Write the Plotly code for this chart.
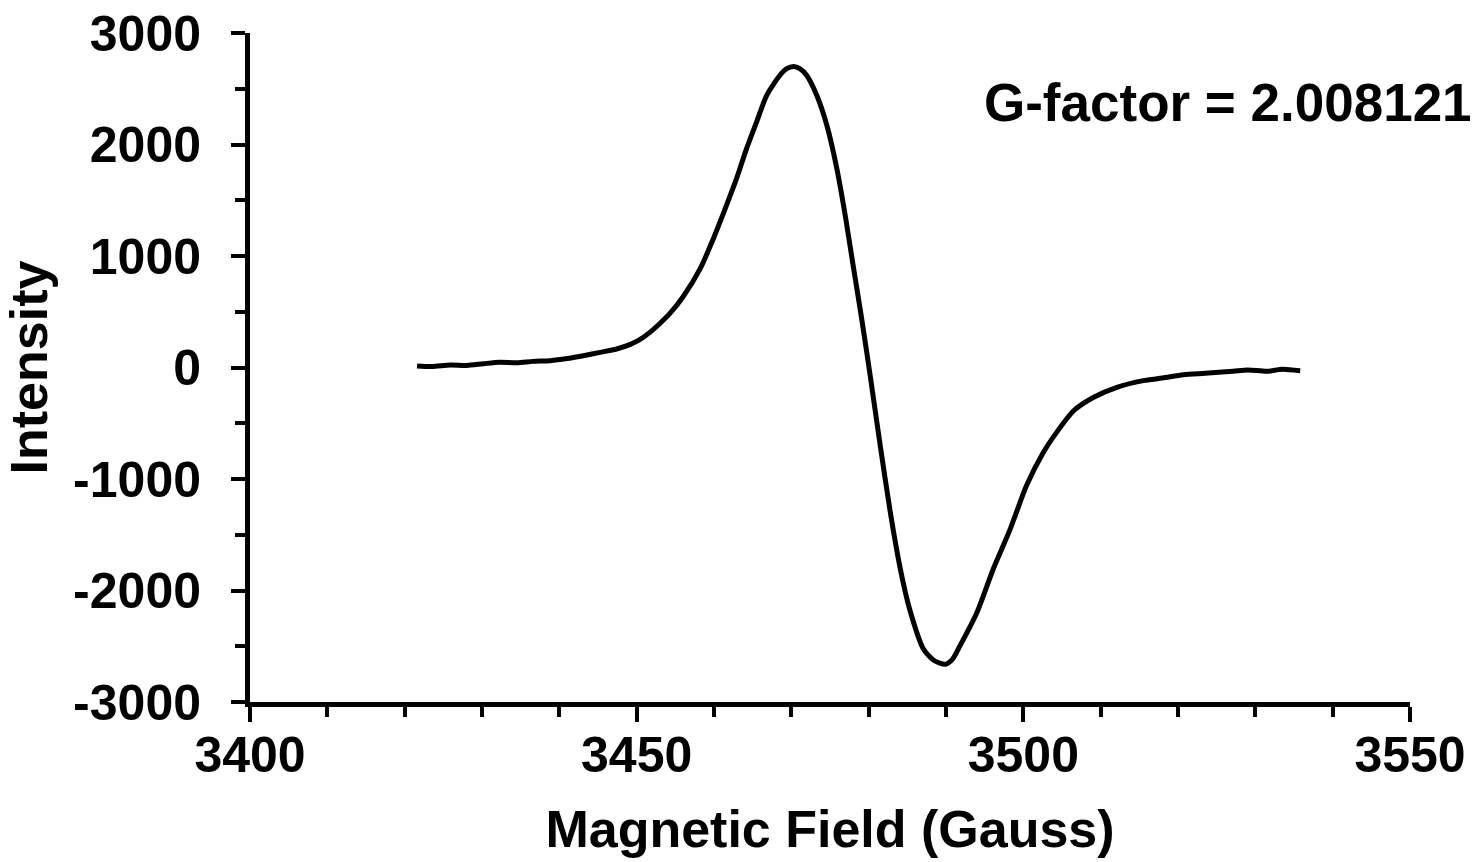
import plotly.graph_objects as go

field = [3421.6, 3423.5, 3425.9, 3428.0, 3430.2, 3432.3, 3434.5, 3436.6, 3438.8, 3441.0,
         3443.1, 3445.3, 3447.4, 3449.1, 3450.4, 3451.7, 3453.0, 3454.3, 3456.0, 3458.2,
         3459.9, 3461.6, 3462.9, 3464.2, 3465.5, 3466.8, 3468.5, 3469.4, 3470.3, 3471.1,
         3472.0, 3473.3, 3474.6, 3475.9, 3476.9, 3478.0, 3479.1, 3480.2, 3481.5, 3482.8,
         3484.1, 3485.3, 3487.1, 3488.5, 3489.9, 3490.8, 3491.8, 3494.0, 3496.1, 3498.3,
         3500.4, 3502.6, 3504.3, 3506.5, 3509.1, 3512.1, 3515.5, 3518.0, 3520.7, 3523.5,
         3527.1, 3529.0, 3531.5, 3533.5, 3535.8]
intensity = [14, 8, 22, 18, 34, 47, 42, 55, 61, 80,
             106, 136, 166, 205, 250, 315, 395, 485, 635, 884,
             1153, 1452, 1691, 1961, 2201, 2439, 2619, 2680, 2700, 2680,
             2619, 2439, 2170, 1779, 1393, 912, 435, -74, -702, -1300,
             -1809, -2168, -2527, -2630, -2662, -2620, -2497, -2197, -1809, -1450,
             -1061, -761, -582, -388, -267, -178, -118, -95, -65, -52,
             -34, -22, -34, -15, -29]

x_ticks = [3400, 3450, 3500, 3550]
x_labels = ["3400", "3450", "3500", "3550"]
y_ticks = [-3000, -2000, -1000, 0, 1000, 2000, 3000]
y_labels = ["-3000", "-2000", "-1000", "0", "1000", "2000", "3000"]

fig = go.Figure(go.Scatter(x=field, y=intensity, mode="lines",
                           line=dict(color="black", width=5, shape="spline", smoothing=0.7),
                           showlegend=False))

font = "Liberation Sans, Arial, sans-serif"
fig.update_layout(
    width=1476, height=862,
    margin=dict(l=250, r=66, t=33, b=160),
    paper_bgcolor="white", plot_bgcolor="white",
    font=dict(family=font, color="black", size=50),
    xaxis=dict(range=[3400, 3550], tickvals=x_ticks,
               ticktext=["<b>%s</b>" % t for t in x_labels],
               showgrid=False, zeroline=False, automargin="bottom",
               showline=True, linecolor="black", linewidth=5,
               ticks="outside", ticklen=15, tickwidth=4, tickcolor="black",
               ticklabelstandoff=-10,
               minor=dict(dtick=10, tick0=3400, ticks="outside", ticklen=10, tickwidth=4,
                          tickcolor="black"),
               tickfont=dict(size=50, family=font),
               title=dict(text="<b>Magnetic Field (Gauss)</b>", font=dict(size=52, family=font),
                          standoff=30)),
    yaxis=dict(range=[-3000, 3000], tickvals=y_ticks,
               ticktext=["<b>%s</b>" % t for t in y_labels],
               showgrid=False, zeroline=False, automargin="left",
               showline=True, linecolor="black", linewidth=5,
               ticks="outside", ticklen=14, tickwidth=4, tickcolor="black",
               ticklabelstandoff=20,
               minor=dict(dtick=500, tick0=0, ticks="outside", ticklen=10, tickwidth=4,
                          tickcolor="black"),
               tickfont=dict(size=50, family=font),
               title=dict(text="<b>Intensity</b>", font=dict(size=52, family=font), standoff=15)),
    annotations=[dict(text="<b>G-factor = 2.008121</b>", x=1.0555, y=0.896,
                      xref="paper", yref="paper", xanchor="right", yanchor="middle",
                      showarrow=False, font=dict(size=53, family=font, color="black"))],
)
fig.write_html("out.html")
